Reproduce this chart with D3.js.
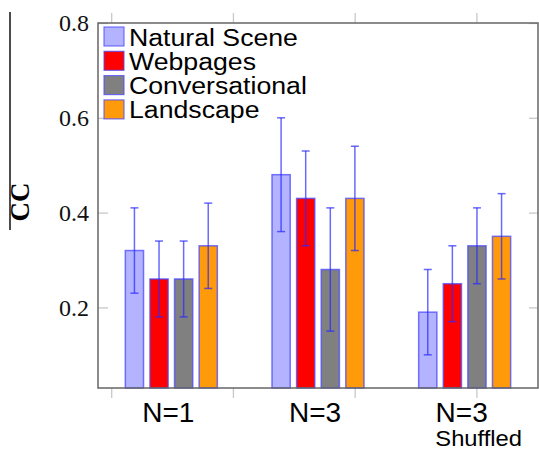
<!DOCTYPE html>
<html>
<head>
<meta charset="utf-8">
<script src="https://cdn.jsdelivr.net/npm/d3@7"></script>
<style>
  body { margin: 0; background: #fff; }
  .tick line { stroke: #c8c8c8; stroke-width: 1.3; }
  .axis path.domain { display: none; }
</style>
</head>
<body>
<div id="wrapper"></div>
<script>
// data
const groups = ["N=1", "N=3", "N=3"]
const groupSubLabels = ["", "", "Shuffled"]
const series = ["Natural Scene", "Webpages", "Conversational", "Landscape"]
const seriesColors = ["#b3b3ff", "#ff0000", "#808080", "#ff9a0a"]
const means = [
  [0.32, 0.26, 0.26, 0.33],
  [0.48, 0.43, 0.28, 0.43],
  [0.19, 0.25, 0.33, 0.35],
]
const errLow = [
  [0.23, 0.18, 0.18, 0.24],
  [0.36, 0.33, 0.15, 0.32],
  [0.10, 0.17, 0.25, 0.26],
]
const errHigh = [
  [0.41, 0.34, 0.34, 0.42],
  [0.60, 0.53, 0.41, 0.54],
  [0.28, 0.33, 0.41, 0.44],
]
const yTicks = [0.2, 0.4, 0.6, 0.8]
const xTickMarks = [0.59, 1.42, 2.25, 3.08]

function drawChart() {
  const dimensions = {
    width: 539,
    height: 450,
    margin: { top: 23, right: 1, bottom: 62, left: 98 },
  }
  dimensions.boundedWidth = dimensions.width - dimensions.margin.left - dimensions.margin.right
  dimensions.boundedHeight = dimensions.height - dimensions.margin.top - dimensions.margin.bottom

  const wrapper = d3.select("#wrapper")
    .append("svg")
      .attr("width", dimensions.width)
      .attr("height", dimensions.height)

  const bounds = wrapper.append("g")
      .attr("transform", `translate(${dimensions.margin.left},${dimensions.margin.top})`)

  // scales
  const xScale = d3.scaleLinear()
    .domain([0.5, 3.5])
    .range([0, dimensions.boundedWidth])

  const subScale = d3.scaleBand()
    .domain(series)
    .range([-46, 46])
    .paddingInner(0.26)

  const yScale = d3.scaleLinear()
    .domain([0.03, 0.8])
    .range([dimensions.boundedHeight, 0])

  // axes (ticks only)
  const yAxis = bounds.append("g")
      .attr("class", "axis")
    .call(d3.axisLeft(yScale).tickValues(yTicks).tickSize(-10).tickPadding(9).tickFormat(d3.format(".1f")))
  yAxis.selectAll("text")
      .attr("fill", "#111")
      .style("font-family", "'Liberation Serif', serif")
      .style("font-size", "24px")

  bounds.append("g")
      .attr("class", "axis")
      .attr("transform", `translate(${dimensions.boundedWidth},0)`)
    .call(d3.axisRight(yScale).tickValues(yTicks).tickSize(-9).tickFormat(""))

  bounds.append("g")
      .attr("class", "axis")
      .attr("transform", `translate(0,${dimensions.boundedHeight})`)
    .call(d3.axisBottom(xScale).tickValues(xTickMarks).tickSize(10).tickFormat(""))

  bounds.append("g")
      .attr("class", "axis")
    .call(d3.axisTop(xScale).tickValues(xTickMarks).tickSize(10).tickFormat(""))

  // bars
  const groupG = bounds.selectAll(".group")
    .data(groups)
    .join("g")
      .attr("class", "group")
      .attr("transform", (d, i) => `translate(${xScale(i + 1)},0)`)

  groupG.each(function(g, gi) {
    const sel = d3.select(this)
    const rows = series.map((s, si) => ({
      s, si, v: means[gi][si], lo: errLow[gi][si], hi: errHigh[gi][si],
    }))
    sel.selectAll("rect")
      .data(rows)
      .join("rect")
        .attr("x", d => subScale(d.s))
        .attr("width", subScale.bandwidth())
        .attr("y", d => yScale(d.v))
        .attr("height", d => yScale(yScale.domain()[0]) - yScale(d.v))
        .attr("fill", d => seriesColors[d.si])
        .attr("stroke", "#4a4aff")
        .attr("stroke-opacity", 0.75)
        .attr("stroke-width", 1.5)

    const err = sel.selectAll(".err")
      .data(rows)
      .join("g")
        .attr("class", "err")
        .attr("transform", d => `translate(${subScale(d.s) + subScale.bandwidth() / 2},0)`)
        .attr("stroke", "#2a2aff")
        .attr("stroke-opacity", 0.7)
        .attr("stroke-width", 1.5)
    err.append("line")
        .attr("y1", d => yScale(d.lo))
        .attr("y2", d => yScale(d.hi))
    err.append("line")
        .attr("x1", -4).attr("x2", 4)
        .attr("y1", d => yScale(d.lo)).attr("y2", d => yScale(d.lo))
    err.append("line")
        .attr("x1", -4).attr("x2", 4)
        .attr("y1", d => yScale(d.hi)).attr("y2", d => yScale(d.hi))
  })

  // frame
  bounds.append("rect")
      .attr("width", dimensions.boundedWidth)
      .attr("height", dimensions.boundedHeight)
      .attr("fill", "none")
      .attr("stroke", "#666")
      .attr("stroke-width", 1.5)

  // category labels
  bounds.selectAll(".cat")
    .data(groups)
    .join("text")
      .attr("class", "cat")
      .attr("x", (d, i) => xScale(i + 1) - 3)
      .attr("y", dimensions.boundedHeight + 34)
      .attr("text-anchor", "middle")
      .style("font-family", "'Liberation Sans', Arial, sans-serif")
      .style("font-size", "28px")
      .text(d => d)

  bounds.selectAll(".sub")
    .data(groupSubLabels)
    .join("text")
      .attr("class", "sub")
      .attr("transform", (d, i) => `translate(${xScale(i + 1) + 14},${dimensions.boundedHeight + 58}) scale(1.08,1)`)
      .attr("text-anchor", "middle")
      .style("font-family", "'Liberation Sans', Arial, sans-serif")
      .style("font-size", "22px")
      .text(d => d)

  // legend
  const legend = bounds.append("g")
      .attr("transform", "translate(6,4)")
  const items = legend.selectAll("g")
    .data(series)
    .join("g")
      .attr("transform", (d, i) => `translate(0,${i * 24.3})`)
  items.append("rect")
      .attr("width", 20)
      .attr("height", 19)
      .attr("fill", (d, i) => seriesColors[i])
      .attr("stroke", "#4a4aff")
      .attr("stroke-opacity", 0.75)
      .attr("stroke-width", 1.2)
  items.append("text")
      .attr("transform", "translate(25,18.5) scale(1.16,1)")
      .style("font-family", "'Liberation Sans', Arial, sans-serif")
      .style("font-size", "23px")
      .text(d => d)

  // y label with its rule
  wrapper.append("line")
      .attr("x1", 10).attr("x2", 10)
      .attr("y1", 12).attr("y2", 230)
      .attr("stroke", "#111")
      .attr("stroke-width", 1.5)
  wrapper.append("text")
      .attr("transform", "translate(29,202) rotate(-90)")
      .attr("text-anchor", "middle")
      .style("font-family", "'Liberation Serif', serif")
      .style("font-size", "27px")
      .style("font-weight", "bold")
      .text("CC")
}
drawChart()
</script>
</body>
</html>
